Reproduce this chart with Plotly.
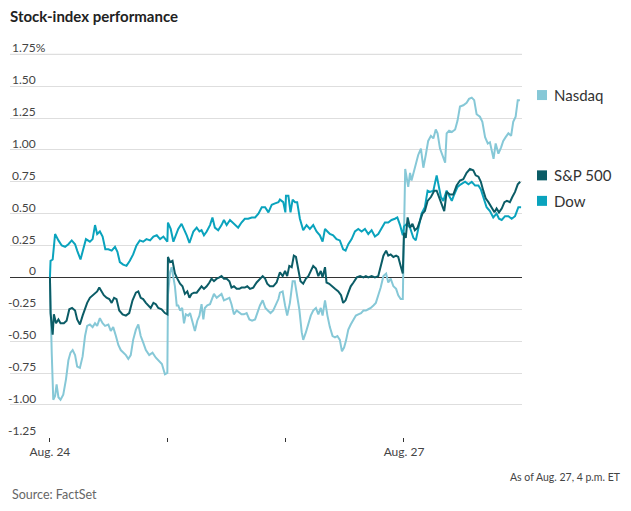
import plotly.graph_objects as go

# time = trading minutes since the Aug. 24 open (390 minutes per session)
nasdaq_t = [0, 2, 6, 11, 17, 22, 28, 35, 44, 53, 61, 68, 75, 83, 90, 99, 108, 116, 123, 132,
            141, 149, 156, 165, 174, 182, 193, 201, 209, 218, 226, 234, 242, 251, 259, 267, 275, 284, 292, 300,
            308, 317, 328, 339, 350, 361, 370, 380, 388,
            390, 397, 402, 408, 413, 419, 424, 430, 437, 443, 449, 457, 463, 470, 479, 487, 494, 501, 507, 512,
            520, 529, 534, 542, 551, 560, 567, 575, 584, 593, 600, 608, 617, 626, 633, 641, 650, 659, 668, 678,
            685, 694, 703, 712, 720, 729, 738, 747, 755, 760, 769, 777,
            784, 793, 802, 809, 815, 824, 832, 837, 846, 854, 862, 870, 879, 887, 895, 901, 909, 917, 925, 934,
            942, 950, 958, 965, 972, 978, 986, 994, 1003, 1011, 1019, 1028, 1036, 1044, 1052, 1060, 1069, 1077,
            1085, 1093, 1102, 1111, 1118, 1126, 1135, 1144, 1151, 1159, 1166,
            1170, 1174, 1184, 1190, 1195, 1201, 1209, 1217, 1226, 1234, 1242, 1250, 1259, 1267, 1275, 1281, 1289,
            1297, 1306, 1311, 1319, 1328, 1339, 1347, 1355, 1366, 1377, 1385, 1394, 1402, 1410, 1421, 1429, 1438,
            1447, 1454, 1462, 1466, 1473, 1482, 1491, 1498, 1506, 1515, 1524, 1531, 1539, 1546, 1553]
nasdaq = [0.00, -0.33, -0.60, -0.96, -0.93, -0.84, -0.94, -0.96, -0.92, -0.80, -0.65, -0.59, -0.57, -0.61, -0.70, -0.71, -0.62, -0.46, -0.38, -0.37,
          -0.39, -0.36, -0.38, -0.32, -0.36, -0.38, -0.37, -0.42, -0.39, -0.46, -0.53, -0.57, -0.59, -0.61, -0.64, -0.61, -0.49, -0.41, -0.37, -0.46,
          -0.51, -0.57, -0.61, -0.59, -0.63, -0.66, -0.68, -0.76, -0.75,
          -0.14, 0.04, 0.08, 0.01, -0.07, -0.22, -0.22, -0.26, -0.24, -0.36, -0.29, -0.30, -0.28, -0.34, -0.42, -0.34, -0.30, -0.21, -0.33, -0.24,
          -0.22, -0.21, -0.18, -0.13, -0.16, -0.14, -0.13, -0.18, -0.17, -0.16, -0.21, -0.29, -0.26, -0.28, -0.29, -0.29, -0.28, -0.33, -0.34, -0.33,
          -0.28, -0.22, -0.18, -0.24, -0.26, -0.28, -0.26, -0.21, -0.17, -0.12, -0.11, -0.22,
          -0.30, -0.20, -0.03, -0.03, -0.12, -0.25, -0.43, -0.49, -0.43, -0.37, -0.30, -0.26, -0.24, -0.29, -0.24, -0.30, -0.18, -0.30, -0.39, -0.46,
          -0.47, -0.46, -0.49, -0.58, -0.55, -0.50, -0.41, -0.37, -0.33, -0.30, -0.29, -0.28, -0.26, -0.26, -0.25, -0.24, -0.22, -0.20,
          -0.14, -0.08, 0.01, 0.03, -0.04, -0.01, -0.07, -0.09, -0.14, -0.17, -0.17,
          0.40, 0.85, 0.71, 0.82, 0.76, 0.81, 0.89, 0.96, 1.01, 0.86, 0.96, 1.07, 1.11, 1.09, 1.16, 1.13, 1.01,
          0.96, 0.90, 1.13, 1.15, 1.14, 1.16, 1.23, 1.34, 1.35, 1.37, 1.40, 1.41, 1.39, 1.28, 1.26, 1.22, 1.10,
          1.05, 1.06, 0.98, 0.93, 1.05, 0.97, 1.02, 1.07, 1.10, 1.13, 1.11, 1.22, 1.26, 1.39, 1.39]

sp_t = [0, 2, 9, 13, 20, 28, 35, 46, 55, 64, 73, 83, 90, 99, 108, 116, 123, 132, 141, 149,
        156, 163, 171, 178, 187, 196, 204, 212, 220, 229, 240, 251, 262, 273, 284, 292, 300, 308, 317, 325,
        333, 342, 350, 358, 369, 380, 388,
        390, 397, 405, 413, 421, 430, 438, 446, 454, 461, 468, 476, 485, 494, 501, 509, 518, 527, 534, 542,
        551, 560, 567, 575, 584, 593, 600, 608, 617, 626, 633, 644, 652, 661, 672, 683, 694, 703, 711, 718,
        727, 738, 749, 760, 769, 777,
        784, 791, 799, 806, 813, 821, 828, 837, 846, 854, 862, 870, 879, 887, 895, 901, 909, 914, 923, 931,
        942, 953, 962, 969, 977, 986, 994, 1003, 1014, 1025, 1036, 1044, 1052, 1063, 1074, 1085, 1093, 1102,
        1111, 1118, 1126, 1135, 1144, 1151, 1159, 1166,
        1170, 1176, 1182, 1190, 1198, 1206, 1215, 1223, 1231, 1239, 1248, 1259, 1270, 1278, 1286, 1294, 1303,
        1311, 1322, 1333, 1344, 1355, 1366, 1377, 1388, 1399, 1407, 1416, 1424, 1432, 1440, 1449, 1460, 1469,
        1476, 1484, 1493, 1502, 1510, 1520, 1528, 1537, 1546, 1554]
sp = [0.00, -0.28, -0.45, -0.29, -0.36, -0.33, -0.36, -0.36, -0.34, -0.25, -0.24, -0.26, -0.33, -0.37, -0.30, -0.24, -0.20, -0.16, -0.14, -0.13,
      -0.11, -0.08, -0.11, -0.14, -0.16, -0.17, -0.20, -0.16, -0.17, -0.26, -0.29, -0.30, -0.28, -0.18, -0.12, -0.11, -0.16, -0.17, -0.20, -0.22,
      -0.24, -0.20, -0.21, -0.24, -0.25, -0.28, -0.29,
      0.16, 0.12, 0.13, 0.03, -0.01, -0.05, -0.07, -0.13, -0.11, -0.16, -0.13, -0.12, -0.12, -0.09, -0.07, -0.09, -0.07, -0.04, -0.01, -0.03,
      -0.01, 0.00, 0.01, -0.01, -0.01, -0.03, -0.08, -0.07, -0.09, -0.09, -0.08, -0.08, -0.07, -0.09, -0.08, -0.04, -0.01, 0.01, -0.01, -0.05,
      -0.07, -0.07, -0.04, 0.04, 0.01, 0.05,
      0.01, 0.09, 0.08, 0.17, 0.16, 0.07, -0.03, -0.05, -0.01, 0.01, 0.05, 0.09, 0.07, 0.01, 0.05, 0.00, 0.08, -0.04, -0.05, -0.07,
      -0.09, -0.11, -0.14, -0.20, -0.18, -0.12, -0.07, -0.04, 0.00, 0.01, 0.00, 0.01, 0.00, 0.01, 0.00, 0.01, 0.08, 0.17,
      0.21, 0.17, 0.18, 0.16, 0.17, 0.16, 0.09, 0.03,
      0.35, 0.31, 0.47, 0.39, 0.42, 0.37, 0.39, 0.45, 0.50, 0.52, 0.60, 0.63, 0.68, 0.68, 0.63, 0.58, 0.52,
      0.67, 0.65, 0.65, 0.72, 0.76, 0.77, 0.82, 0.85, 0.84, 0.80, 0.79, 0.75, 0.68, 0.62, 0.59, 0.55, 0.51,
      0.54, 0.51, 0.54, 0.59, 0.60, 0.59, 0.63, 0.67, 0.73, 0.75]

dow_t = [0, 2, 9, 17, 28, 39, 50, 61, 72, 83, 90, 101, 110, 119, 132, 141, 149, 156, 165, 174,
         183, 193, 204, 215, 223, 231, 242, 253, 264, 275, 286, 297, 308, 319, 331, 342, 353, 364, 375, 388,
         390, 399, 408, 416, 424, 435, 443, 452, 461, 474, 485, 494, 501, 509, 518, 529, 537, 545, 556, 567,
         575, 584, 595, 604, 611, 622, 633, 644, 655, 667, 678, 689, 700, 711, 722, 733, 744, 755, 760, 771, 778,
         780, 788, 795, 802, 810, 817, 826, 837, 848, 859, 870, 881, 892, 901, 909, 917, 925, 936, 947, 958,
         969, 977, 986, 997, 1008, 1019, 1030, 1041, 1052, 1063, 1074, 1085, 1096, 1107, 1118, 1129, 1140, 1148,
         1157, 1166,
         1170, 1179, 1190, 1201, 1209, 1217, 1228, 1239, 1248, 1256, 1267, 1278, 1283, 1292, 1300, 1311, 1319,
         1328, 1336, 1347, 1358, 1372, 1383, 1394, 1405, 1416, 1424, 1432, 1443, 1454, 1465, 1476, 1484, 1493,
         1504, 1515, 1526, 1537, 1548, 1557]
dow = [0.00, 0.13, 0.14, 0.34, 0.29, 0.25, 0.24, 0.26, 0.29, 0.26, 0.21, 0.14, 0.22, 0.30, 0.28, 0.30, 0.41, 0.34, 0.36, 0.32,
       0.22, 0.22, 0.21, 0.24, 0.20, 0.12, 0.10, 0.09, 0.13, 0.18, 0.25, 0.29, 0.28, 0.30, 0.29, 0.32, 0.33, 0.30, 0.32, 0.28,
       0.43, 0.38, 0.28, 0.33, 0.38, 0.42, 0.38, 0.33, 0.27, 0.36, 0.39, 0.36, 0.37, 0.33, 0.36, 0.41, 0.47, 0.39, 0.37, 0.41,
       0.45, 0.41, 0.45, 0.43, 0.41, 0.39, 0.43, 0.46, 0.46, 0.47, 0.47, 0.50, 0.55, 0.55, 0.51, 0.57, 0.58, 0.59, 0.61, 0.59, 0.51,
       0.64, 0.64, 0.51, 0.61, 0.59, 0.59, 0.46, 0.37, 0.41, 0.38, 0.41, 0.36, 0.33, 0.28, 0.38, 0.36, 0.34, 0.33, 0.30, 0.29,
       0.22, 0.21, 0.26, 0.30, 0.36, 0.38, 0.36, 0.38, 0.34, 0.37, 0.32, 0.34, 0.38, 0.43, 0.43, 0.45, 0.46, 0.47,
       0.41, 0.33,
       0.40, 0.42, 0.39, 0.31, 0.29, 0.37, 0.50, 0.55, 0.68, 0.67, 0.68, 0.80, 0.73, 0.63, 0.60, 0.68, 0.64,
       0.60, 0.65, 0.71, 0.73, 0.75, 0.73, 0.75, 0.72, 0.72, 0.69, 0.63, 0.55, 0.52, 0.47, 0.50, 0.46, 0.45,
       0.48, 0.48, 0.46, 0.48, 0.55, 0.55]

y_ticks = [1.75, 1.5, 1.25, 1.0, 0.75, 0.5, 0.25, 0, -0.25, -0.5, -0.75, -1.0, -1.25]
y_labels = ["1.75%", "1.50", "1.25", "1.00", "0.75", "0.50", "0.25", "0",
            "-0.25", "-0.50", "-0.75", "-1.00", "-1.25"]
x_ticks = [0, 390, 780, 1170]
x_labels = ["Aug. 24", "", "", "Aug. 27"]

names = ["Nasdaq", "S&P 500", "Dow"]
colors = ["#86c8d7", "#0b5c66", "#0aa3bd"]
legend_y = [1.43, 0.80, 0.60]

font = "Lato, Open Sans, sans-serif"
grid = "#dedede"

fig = go.Figure()
series = {"Nasdaq": (nasdaq_t, nasdaq), "Dow": (dow_t, dow), "S&P 500": (sp_t, sp)}
for name in ["Nasdaq", "Dow", "S&P 500"]:
    t, v = series[name]
    fig.add_trace(go.Scatter(
        x=t, y=v, mode="lines", name=name,
        line=dict(color=colors[names.index(name)], width=2),
        hoverinfo="skip",
    ))

annotations = []
# y tick labels sit above the gridlines, right-aligned
for val, lab in zip(y_ticks, y_labels):
    shift = 28 + (10 if lab.endswith("%") else 0)
    annotations.append(dict(
        x=0, xref="paper", xanchor="right", xshift=shift,
        y=val, yref="y", yanchor="bottom", yshift=-3,
        text=lab, showarrow=False,
        font=dict(family=font, size=12, color="#444"),
    ))

# top gridline, drawn again on top in case plotly drops it
shapes = [dict(
    type="line", xref="paper", x0=0, x1=1, yref="y", y0=y_ticks[0], y1=y_ticks[0],
    line=dict(color=grid, width=1), layer="above",
)]
for name, col, ly in zip(names, colors, legend_y):
    shapes.append(dict(
        type="rect", xref="paper", yref="y",
        xsizemode="pixel", ysizemode="pixel",
        xanchor=1, x0=15, x1=25, yanchor=ly, y0=-5, y1=5,
        fillcolor=col, line=dict(width=0),
    ))
    annotations.append(dict(
        x=1, xref="paper", xanchor="left", xshift=30,
        y=ly, yref="y", yanchor="middle",
        text=name, showarrow=False,
        font=dict(family=font, size=15, color="#333"),
    ))

annotations.append(dict(
    x=1, xref="paper", xanchor="right", xshift=101,
    y=0, yref="paper", yanchor="middle", yshift=-40,
    text="As of Aug. 27, 4 p.m. ET", showarrow=False,
    font=dict(family=font, size=10.5, color="#444"),
))
annotations.append(dict(
    x=0, xref="paper", xanchor="left",
    y=0, yref="paper", yanchor="middle", yshift=-57,
    text="Source: FactSet", showarrow=False,
    font=dict(family=font, size=12.5, color="#666"),
))

# the page puts the figure 8px in from the top-left corner
fig.update_layout(
    width=623, height=503,
    margin=dict(l=2, r=109, t=40, b=74),
    paper_bgcolor="white", plot_bgcolor="white",
    showlegend=False,
    title=dict(
        text="<b>Stock-index performance</b>",
        x=2 / 623, xref="container", xanchor="left",
        y=1 - 9 / 503, yref="container", yanchor="middle",
        font=dict(family=font, size=15, color="#222"),
    ),
    xaxis=dict(
        range=[-132, 1560],
        tickvals=x_ticks, ticktext=x_labels,
        showgrid=False, zeroline=False, showline=False,
        ticks="outside", ticklen=4, tickcolor="#333", tickwidth=1,
        tickfont=dict(family=font, size=12, color="#444"),
    ),
    yaxis=dict(
        range=[-1.252, 1.799],
        tickvals=y_ticks, showticklabels=False,
        showgrid=True, gridcolor=grid, gridwidth=1,
        zeroline=True, zerolinecolor="#333", zerolinewidth=1,
        showline=False, ticks="",
    ),
    annotations=annotations,
    shapes=shapes,
)

fig.write_html("out.html")
